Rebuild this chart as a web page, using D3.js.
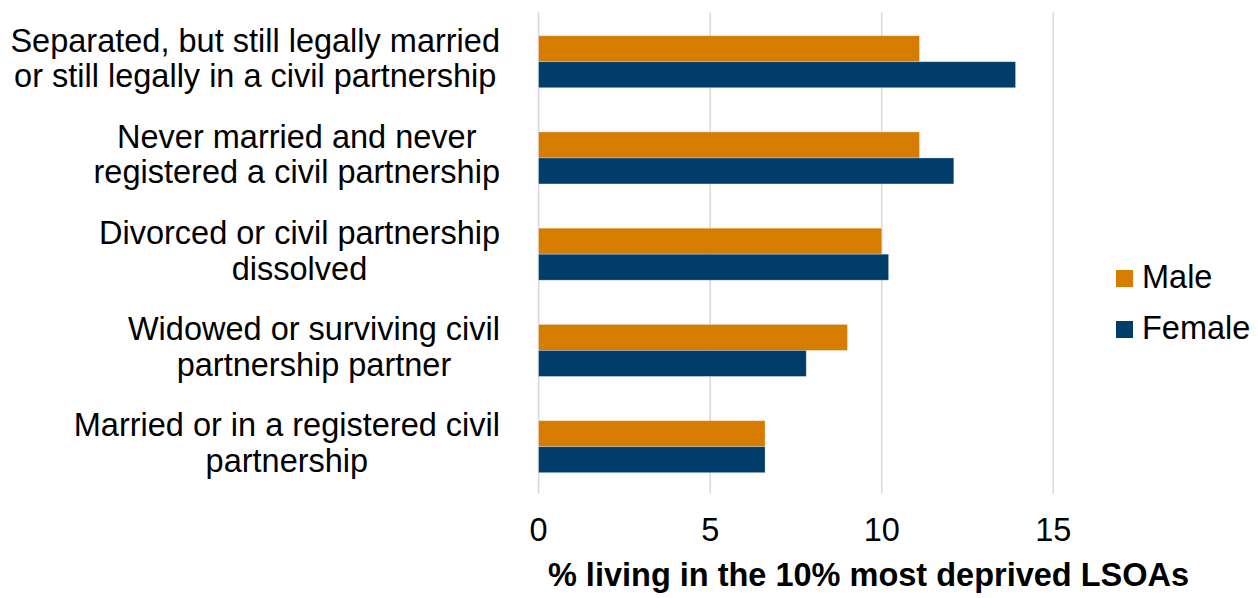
<!DOCTYPE html>
<html>
<head>
<meta charset="utf-8">
<script src="https://cdn.jsdelivr.net/npm/d3@7"></script>
<style>
  html, body { margin: 0; padding: 0; background: #ffffff; }
  svg { display: block; }
  text { font-family: "Liberation Sans", Arial, sans-serif; fill: #000; }
</style>
</head>
<body>
<svg id="chart" width="1258" height="598"></svg>
<script>
// Categories (top to bottom), each as wrapped lines
const categories = [
  ["Separated, but still legally married", "or still legally in a civil partnership"],
  ["Never married and never", "registered a civil partnership"],
  ["Divorced or civil partnership", "dissolved"],
  ["Widowed or surviving civil", "partnership partner"],
  ["Married or in a registered civil", "partnership"]
];
const seriesNames = ["Male", "Female"];
const maleValues   = [11.1, 11.1, 10.0, 9.0, 6.6];
const femaleValues = [13.9, 12.1, 10.2, 7.8, 6.6];
const tickValues = [0, 5, 10, 15];
const axisTitle = "% living in the 10% most deprived LSOAs";
const colors = { Male: "#d67c00", Female: "#003d6b" };

const data = categories.map((c, i) => ({
  key: c.join(" "), lines: c,
  Male: maleValues[i], Female: femaleValues[i]
}));

const svg = d3.select("#chart");
const plot = { left: 538.6, right: 1053.3, top: 12.4, bottom: 493.6 };

const x = d3.scaleLinear().domain([0, 15]).range([plot.left, plot.right]);
const y = d3.scaleBand().domain(data.map(d => d.key))
  .range([plot.top, plot.bottom]).paddingInner(0.46).paddingOuter(0.23);
const ySub = d3.scaleBand().domain(seriesNames).range([0, y.bandwidth()]).padding(0);

// Gridlines
svg.append("g").selectAll("line").data(tickValues).join("line")
  .attr("x1", d => x(d)).attr("x2", d => x(d))
  .attr("y1", plot.top).attr("y2", plot.bottom)
  .attr("stroke", "#d9d9d9").attr("stroke-width", 1.6);

// Bars
const groups = svg.append("g").selectAll("g").data(data).join("g")
  .attr("transform", d => `translate(0,${y(d.key) + 1.2})`);
groups.selectAll("rect").data(d => seriesNames.map(s => ({ s, v: d[s] }))).join("rect")
  .attr("x", x(0))
  .attr("y", d => ySub(d.s))
  .attr("width", d => x(d.v) - x(0))
  .attr("height", ySub.bandwidth())
  .attr("fill", d => colors[d.s])
  .attr("stroke", "#ffffff").attr("stroke-opacity", 0.35).attr("stroke-width", 0.8);

// Category labels (right aligned block, lines centered within block)
const fs = 32.5;
const lab = svg.append("g");
data.forEach(d => {
  const cy = y(d.key) + y.bandwidth() / 2;
  const g = lab.append("g");
  const texts = d.lines.map((ln, i) => g.append("text")
    .attr("font-size", fs)
    .attr("y", cy - 9 + i * 35.5)
    .text(ln));
  const widths = texts.map(t => t.node().getComputedTextLength());
  const maxW = d3.max(widths);
  const center = 500 - maxW / 2;
  texts.forEach(t => t.attr("x", center).attr("text-anchor", "middle"));
});

// X tick labels
svg.append("g").selectAll("text").data(tickValues).join("text")
  .attr("x", d => x(d)).attr("y", 541)
  .attr("text-anchor", "middle").attr("font-size", fs)
  .text(d => d);

// Axis title
svg.append("text")
  .attr("x", 868.5).attr("y", 586)
  .attr("text-anchor", "middle").attr("font-size", fs).attr("font-weight", "bold")
  .text(axisTitle);

// Legend
const legend = svg.append("g");
seriesNames.forEach((s, i) => {
  const ly = 270 + i * 51;
  legend.append("rect").attr("x", 1116).attr("y", ly).attr("width", 17).attr("height", 17)
    .attr("fill", colors[s]);
  legend.append("text").attr("x", 1142).attr("y", ly + 18).attr("font-size", fs).text(s);
});
</script>
</body>
</html>
